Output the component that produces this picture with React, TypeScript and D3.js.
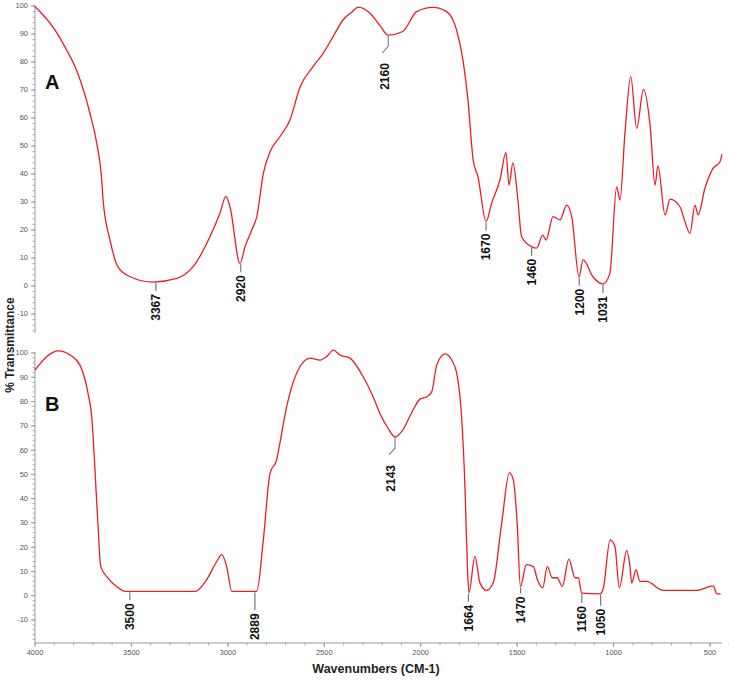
import React from "react";
import * as d3 from "d3";

// ---- Data (wavenumber cm-1, % transmittance) ----
const waveA = [4000, 3896, 3836, 3784, 3715, 3680, 3654, 3647, 3611, 3570, 3507, 3388, 3265, 3180, 3093, 3041, 3010, 2989, 2937, 2911, 2876, 2850, 2816, 2781, 2730, 2678, 2626, 2559, 2506, 2455, 2403, 2356, 2325, 2263, 2211, 2170, 2093, 2021, 1936, 1866, 1814, 1781, 1755, 1728, 1703, 1661, 1632, 1589, 1558, 1542, 1522, 1496, 1477, 1425, 1399, 1368, 1350, 1314, 1278, 1243, 1217, 1179, 1158, 1107, 1055, 1019, 984, 967, 941, 911, 880, 845, 810, 785, 770, 733, 707, 656, 630, 604, 578, 562, 526, 484, 448, 438];
const valA = [99.8, 91.4, 84.3, 77, 61.7, 51, 37.9, 30.7, 16.4, 6.8, 3.3, 1.4, 2.7, 6.9, 17.6, 26, 32, 28.3, 8.1, 14, 20, 24.8, 40.2, 48, 53.3, 59.3, 71, 78.3, 83.1, 89, 95, 97.9, 99.6, 97.4, 93, 89.6, 90.9, 98, 99.5, 98, 91.4, 80.7, 66.4, 45, 39, 23, 29.6, 37.9, 47.6, 36, 44, 30.7, 17.6, 14, 13.5, 18.2, 16.4, 24.8, 23.6, 28.9, 24.8, 3.3, 9.3, 3.3, 0.7, 4.6, 35.4, 30.7, 54.6, 74.8, 56.3, 70.2, 56.9, 36, 42.9, 25.4, 31, 28.3, 23, 18.8, 28.9, 25.4, 35, 42, 44.4, 47];

const waveB = [4000, 3940, 3880, 3818, 3767, 3725, 3706, 3689, 3673, 3659, 3628, 3577, 3533, 3170, 3110, 3058, 3032, 3006, 2980, 2850, 2816, 2781, 2747, 2730, 2695, 2643, 2574, 2522, 2488, 2453, 2419, 2367, 2299, 2247, 2211, 2170, 2133, 2093, 2040, 2004, 1969, 1943, 1917, 1874, 1839, 1810, 1788, 1770, 1758, 1750, 1719, 1693, 1658, 1624, 1580, 1540, 1520, 1500, 1483, 1452, 1416, 1395, 1367, 1344, 1318, 1292, 1266, 1232, 1200, 1183, 1165, 1070, 1053, 1018, 993, 970, 932, 915, 906, 884, 863, 829, 742, 569, 483, 465, 445];
const valB = [93, 98.5, 100.9, 99.2, 95, 83.4, 73.8, 51.9, 28.5, 12, 7.9, 3.8, 1.8, 1.8, 6.6, 14.1, 16.9, 12, 1.8, 1.8, 23, 50.6, 56, 63, 77.9, 91.8, 97.9, 97.1, 98.5, 101.2, 99.2, 97.9, 90.3, 82, 75, 69.1, 65.4, 68.3, 76.5, 81, 82, 84, 95, 99.6, 97.1, 90.3, 73.8, 43.6, 12, 1.2, 16.2, 5.3, 2.2, 5.3, 30, 50.7, 47.7, 30, 3.8, 12.8, 12, 6.6, 3.2, 12, 7.4, 7.4, 3.8, 15.1, 7.4, 7.4, 1.1, 0.8, 3.2, 23, 20.3, 3.2, 18.6, 12, 5.2, 10.7, 5.9, 5.9, 2.2, 2.2, 4.1, 0.8, 0.8];

const peakLabelsA = ["3367", "2920", "2160", "1670", "1460", "1200", "1031"];
const peakWaveA = [3373, 2933, 2168, 1661, 1425, 1178, 1055];
const peakValA = [1.4, 8.1, 89.6, 23, 14, 3.3, 0.7];
const peakKinkA = [false, false, true, false, false, false, false];
const peakLeadA = [8, 8, 10, 8, 8, 8, 8];

const peakLabelsB = ["3500", "2889", "2143", "1664", "1470", "1160", "1050"];
const peakWaveB = [3508, 2860, 2133, 1753, 1482, 1165, 1067];
const peakValB = [1.8, 1.8, 65.4, 1.2, 3.8, 1.1, 0.8];
const peakKinkB = [false, false, true, false, false, false, false];
const peakLeadB = [8, 18, 10, 8, 6, 9, 11];

const yTicks = [100, 90, 80, 70, 60, 50, 40, 30, 20, 10, 0, -10];
const xTicks = [4000, 3500, 3000, 2500, 2000, 1500, 1000, 500];

const RED = "#ee1c25";
const AXIS = "#9a9a9a";
const TICKTXT = "#555";

const x = d3.scaleLinear().domain([4000, 500]).range([35, 710]);
const yA = d3.scaleLinear().domain([-10, 100]).range([314, 6]);
const yB = d3.scaleLinear().domain([-10, 100]).range([620, 353]);

function Panel({ waves, vals, y, yEnd, letter, letterY, labels, pw, pv, kinks, leads }: any) {
  const line = d3
    .line<number>()
    .x((_, i) => x(waves[i]))
    .y((v) => y(v))
    .curve(d3.curveMonotoneX);
  const minor = d3.range(-18, 101, 2).filter((v) => y(v) <= yEnd);
  return (
    <g>
      <line x1={35} x2={35} y1={y(100) - 1} y2={yEnd} stroke={AXIS} strokeWidth={1} />
      {minor.map((v) => (
        <line key={"m" + v} x1={32.5} x2={35} y1={y(v)} y2={y(v)} stroke={AXIS} strokeWidth={0.8} />
      ))}
      {yTicks.map((t) => (
        <g key={t}>
          <line x1={31} x2={35} y1={y(t)} y2={y(t)} stroke={AXIS} strokeWidth={1} />
          <text
            x={28}
            y={y(t)}
            dy="0.33em"
            textAnchor="end"
            fontSize={7.5}
            fontFamily="Liberation Sans Narrow, Liberation Sans, Arial, sans-serif"
            fill={TICKTXT}
          >
            {t}
          </text>
        </g>
      ))}
      <path d={line(vals) || ""} fill="none" stroke={RED} strokeWidth={1.3} />
      <text x={45} y={letterY} fontSize={20} fontWeight="bold" fontFamily="Liberation Sans, Arial, sans-serif" fill="#111">
        {letter}
      </text>
      {labels.map((lab: string, i: number) => {
        const px = x(pw[i]);
        const py = y(pv[i]);
        const kink = kinks[i];
        const lead = leads[i];
        const tx = kink ? px - 4 : px;
        const ty = kink ? py + lead + 18 : py + lead + 4;
        return (
          <g key={lab}>
            {kink ? (
              <polyline
                points={`${px},${py + 1} ${px},${py + lead + 1} ${px - 6},${py + lead + 8}`}
                fill="none"
                stroke="#888"
                strokeWidth={1.2}
              />
            ) : (
              <line x1={px} x2={px} y1={py + 1} y2={py + lead + 1} stroke="#777" strokeWidth={1.2} />
            )}
            <text
              transform={`translate(${tx},${ty}) rotate(-90)`}
              textAnchor="end"
              dy="0.36em"
              fontSize={12}
              fontWeight="bold"
              fontFamily="Liberation Sans, Arial, sans-serif"
              fill="#111"
            >
              {lab}
            </text>
          </g>
        );
      })}
    </g>
  );
}

export default function App() {
  const minorX = d3.range(4000, 399, -100);
  return (
    <div style={{ position: "absolute", left: 0, top: 0 }}>
      <svg width={729} height={682} style={{ display: "block", background: "#fff" }}>
        <Panel
          waves={waveA}
          vals={valA}
          y={yA}
          yEnd={333}
          letter="A"
          letterY={89}
          labels={peakLabelsA}
          pw={peakWaveA}
          pv={peakValA}
          kinks={peakKinkA}
          leads={peakLeadA}
        />
        <Panel
          waves={waveB}
          vals={valB}
          y={yB}
          yEnd={643}
          letter="B"
          letterY={411}
          labels={peakLabelsB}
          pw={peakWaveB}
          pv={peakValB}
          kinks={peakKinkB}
          leads={peakLeadB}
        />
        {/* x axis */}
        <line x1={35} x2={722} y1={643} y2={643} stroke={AXIS} strokeWidth={1} />
        {minorX.map((w) => (
          <line key={"mx" + w} x1={x(w)} x2={x(w)} y1={643} y2={645.5} stroke={AXIS} strokeWidth={0.8} />
        ))}
        {xTicks.map((t) => (
          <g key={t}>
            <line x1={x(t)} x2={x(t)} y1={643} y2={647} stroke={AXIS} strokeWidth={1} />
            <text
              x={x(t)}
              y={655}
              textAnchor="middle"
              fontSize={7.5}
              fontFamily="Liberation Sans Narrow, Liberation Sans, Arial, sans-serif"
              fill={TICKTXT}
            >
              {t}
            </text>
          </g>
        ))}
        <text
          x={376}
          y={673}
          textAnchor="middle"
          fontSize={12.5}
          fontWeight="bold"
          fontFamily="Liberation Sans Narrow, Liberation Sans, Arial, sans-serif"
          fill="#222"
        >
          Wavenumbers (CM-1)
        </text>
        <text
          transform="translate(14,345) rotate(-90)"
          textAnchor="middle"
          fontSize={12}
          fontWeight="bold"
          fontFamily="Liberation Sans, Arial, sans-serif"
          fill="#222"
        >
          % Transmittance
        </text>
      </svg>
    </div>
  );
}
